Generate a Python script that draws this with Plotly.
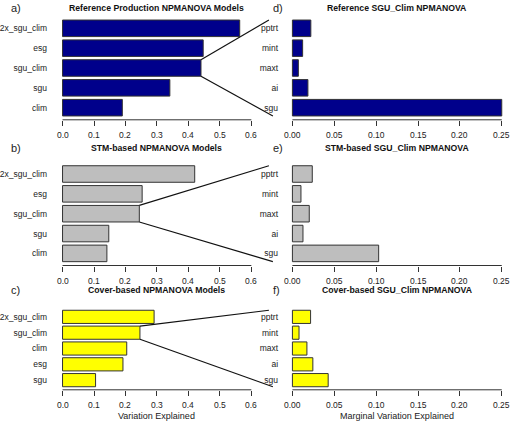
import plotly.graph_objects as go

# ---------------- data ----------------
ref_models = ["clim", "sgu", "sgu_clim", "esg", "2x_sgu_clim"]
ref_values = [0.190, 0.341, 0.440, 0.447, 0.563]

stm_models = ["clim", "sgu", "sgu_clim", "esg", "2x_sgu_clim"]
stm_values = [0.141, 0.147, 0.244, 0.253, 0.420]

cover_models = ["sgu", "esg", "clim", "sgu_clim", "2x_sgu_clim"]
cover_values = [0.105, 0.192, 0.204, 0.246, 0.291]

clim_vars = ["sgu", "ai", "maxt", "mint", "pptrt"]
ref_marginal = [0.250, 0.0185, 0.0071, 0.0122, 0.0220]
stm_marginal = [0.103, 0.0126, 0.0201, 0.0102, 0.0237]
cover_marginal = [0.0427, 0.0244, 0.0173, 0.0079, 0.0217]

left_ticks = [0.0, 0.1, 0.2, 0.3, 0.4, 0.5, 0.6]
left_tick_labels = ["0.0", "0.1", "0.2", "0.3", "0.4", "0.5", "0.6"]
right_ticks = [0.0, 0.05, 0.10, 0.15, 0.20, 0.25]
right_tick_labels = ["0.00", "0.05", "0.10", "0.15", "0.20", "0.25"]

titles = ["Reference Production NPMANOVA Models", "Reference SGU_Clim NPMANOVA",
          "STM-based NPMANOVA Models", "STM-based SGU_Clim NPMANOVA",
          "Cover-based NPMANOVA Models", "Cover-based SGU_Clim NPMANOVA"]
panel_letters = ["a)", "d)", "b)", "e)", "c)", "f)"]
x_title_left = "Variation Explained"
x_title_right = "Marginal Variation Explained"

# ---------------- layout (pixel geometry) ----------------
W, H = 510, 421
FONT = "Liberation Sans, Arial, sans-serif"
TXT = "#222222"
EDGE = "#333333"
NAVY = "#00008B"
GRAY = "#BEBEBE"
YELLOW = "#FFFF00"

# rows: (top, bottom) pixel extents of the plot regions, and title row
rows_px = [(16.2, 119.8), (161.9, 265.5), (307.2, 389.8)]
title_px = [8.5, 148.5, 289.5]
TICKLAB_OFFSET = 15.0
# columns: pixel position of 0 and of axis max, axis max
cols = [dict(x0=59.0, x1=249.3, vmax=0.6, ticks=left_ticks, labels=left_tick_labels),
        dict(x0=290.7, x1=501.7, vmax=0.25, ticks=right_ticks, labels=right_tick_labels)]
YR = (-0.61, 4.61)
HALF = (1 - 0.1667) / 2

def pxx(p):
    return p / W

def pxy(p):
    return 1 - p / H

panels = [
    (ref_models, ref_values, NAVY, 0, 0),
    (clim_vars, ref_marginal, NAVY, 0, 1),
    (stm_models, stm_values, GRAY, 1, 0),
    (clim_vars, stm_marginal, GRAY, 1, 1),
    (cover_models, cover_values, YELLOW, 2, 0),
    (clim_vars, cover_marginal, YELLOW, 2, 1),
]

fig = go.Figure()
layout = dict(width=W, height=H, margin=dict(l=0, r=0, t=0, b=0),
              paper_bgcolor="white", plot_bgcolor="white", showlegend=False,
              bargap=0.1667, font=dict(family=FONT, size=8.5, color=TXT))
shapes = []
annotations = []
geo = []

def map_x(g, v):
    return g["dom_x"][0] + (v - g["xr"][0]) / (g["xr"][1] - g["xr"][0]) * (g["dom_x"][1] - g["dom_x"][0])

def map_y(g, idx):
    return g["dom_y"][0] + (idx - YR[0]) / (YR[1] - YR[0]) * (g["dom_y"][1] - g["dom_y"][0])

for i, (cats, vals, color, r, c) in enumerate(panels):
    n = "" if i == 0 else str(i + 1)
    col = cols[c]
    scale = (col["x1"] - col["x0"]) / col["vmax"]
    pad = 0.024 * col["vmax"] if c == 0 else 0.004
    xr = (-pad, col["vmax"] + pad)
    dom_x = (pxx(col["x0"] - pad * scale), pxx(col["x1"] + pad * scale))
    top, bot = rows_px[r]
    dom_y = (pxy(bot), pxy(top))
    g = dict(xr=xr, dom_x=dom_x, dom_y=dom_y)
    geo.append(g)

    fig.add_trace(go.Bar(y=cats, x=vals, orientation="h",
                         marker=dict(color=color, line=dict(color=EDGE, width=1)),
                         xaxis="x" + n, yaxis="y" + n, hoverinfo="x+y"))
    layout["xaxis" + n] = dict(domain=list(dom_x), range=list(xr), anchor="y" + n,
                               showgrid=False, zeroline=False, showline=False,
                               tickmode="array", tickvals=col["ticks"],
                               ticks="outside", ticklen=5, tickwidth=1, tickcolor=EDGE,
                               showticklabels=False)
    layout["yaxis" + n] = dict(domain=list(dom_y), range=list(YR), anchor="x" + n,
                               type="category", categoryorder="array", categoryarray=cats,
                               showgrid=False, zeroline=False, showline=False, ticks="",
                               tickfont=dict(size=8.5, color=TXT), ticklabelstandoff=10)
    # axis line spanning 0 .. max (R style)
    shapes.append(dict(type="line", xref="paper", yref="paper",
                       x0=map_x(g, col["ticks"][0]), x1=map_x(g, col["ticks"][-1]),
                       y0=dom_y[0], y1=dom_y[0], line=dict(color=EDGE, width=1)))
    # tick labels
    for tv, tl in zip(col["ticks"], col["labels"]):
        annotations.append(dict(text=tl, xref="paper", yref="paper",
                                x=map_x(g, tv), y=pxy(bot + TICKLAB_OFFSET),
                                showarrow=False, xanchor="center", yanchor="middle",
                                font=dict(size=8.5, color=TXT, family=FONT)))
    # title
    annotations.append(dict(text="<b>" + titles[i] + "</b>", xref="paper", yref="paper",
                            x=(map_x(g, 0) + map_x(g, col["vmax"])) / 2, y=pxy(title_px[r]),
                            showarrow=False, xanchor="center", yanchor="middle",
                            font=dict(size=8.7, color="#111111", family=FONT)))
    # panel letter
    annotations.append(dict(text=panel_letters[i], xref="paper", yref="paper",
                            x=pxx(5 if c == 0 else 269), y=pxy(title_px[r]),
                            showarrow=False, xanchor="left", yanchor="middle",
                            font=dict(size=11, color=TXT, family=FONT)))

# zoom lines from the sgu_clim bar to the marginal panel
for li in (0, 2, 4):
    cats, vals = panels[li][0], panels[li][1]
    k = cats.index("sgu_clim")
    gl, gr = geo[li], geo[li + 1]
    xs = map_x(gl, vals[k])
    shapes.append(dict(type="line", xref="paper", yref="paper",
                       x0=xs, y0=map_y(gl, k + HALF), x1=pxx(267), y1=map_y(gr, 4 + HALF),
                       line=dict(color="#111111", width=1.2)))
    shapes.append(dict(type="line", xref="paper", yref="paper",
                       x0=xs, y0=map_y(gl, k - HALF), x1=pxx(271), y1=map_y(gr, 0 - HALF),
                       line=dict(color="#111111", width=1.2)))

# x axis titles
annotations.append(dict(text=x_title_left, xref="paper", yref="paper",
                        x=map_x(geo[4], 0.3), y=pxy(416), showarrow=False,
                        xanchor="center", yanchor="middle", font=dict(size=9, color=TXT)))
annotations.append(dict(text=x_title_right, xref="paper", yref="paper",
                        x=map_x(geo[5], 0.125), y=pxy(416), showarrow=False,
                        xanchor="center", yanchor="middle", font=dict(size=9, color=TXT)))

layout["shapes"] = shapes
layout["annotations"] = annotations
fig.update_layout(**layout)
fig.write_html("out.html", config={"displayModeBar": False},
               post_script="document.body.style.margin='0';document.body.style.padding='0';")
